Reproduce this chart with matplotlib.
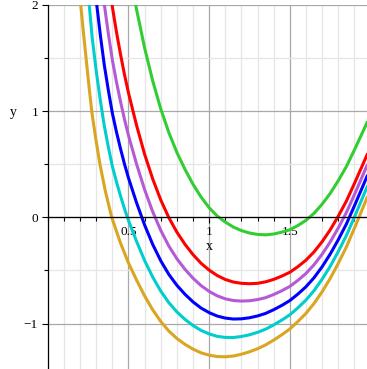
import numpy as np
import matplotlib
matplotlib.use("Agg")
from matplotlib import pyplot as plt
from matplotlib.ticker import MultipleLocator, FixedLocator

# curves (x, y)
orange_x = [0.204, 0.22, 0.237, 0.254, 0.272, 0.296, 0.323, 0.356, 0.396, 0.45, 0.50, 0.55, 0.60, 0.65, 0.70,
            0.75, 0.80, 0.85, 0.90, 0.95, 1.00, 1.05, 1.10, 1.15, 1.20, 1.25, 1.30, 1.35, 1.40, 1.45, 1.50,
            1.55, 1.60, 1.65, 1.70, 1.75, 1.80, 1.85, 1.90, 1.95, 1.98]
orange_y = [2.0, 1.75, 1.5, 1.25, 1.0, 0.75, 0.5, 0.25, 0.0, -0.24, -0.43, -0.59, -0.74, -0.87, -0.98,
            -1.07, -1.14, -1.195, -1.24, -1.275, -1.297, -1.31, -1.312, -1.305, -1.288, -1.265, -1.236, -1.2, -1.155, -1.105, -1.05,
            -0.98, -0.903, -0.81, -0.70, -0.575, -0.433, -0.28, -0.103, 0.08, 0.19]

cyan_x = [0.25, 0.275, 0.30, 0.325, 0.35, 0.375, 0.40, 0.425, 0.45, 0.475, 0.50, 0.55, 0.60, 0.65, 0.70,
          0.75, 0.80, 0.85, 0.90, 0.95, 1.00, 1.05, 1.10, 1.15, 1.20, 1.25, 1.30, 1.35, 1.40, 1.45, 1.50,
          1.55, 1.60, 1.65, 1.70, 1.75, 1.80, 1.85, 1.90, 1.95, 1.98]
cyan_y = [2.11, 1.69, 1.377, 1.105, 0.861, 0.663, 0.48, 0.336, 0.204, 0.081, -0.03, -0.226, -0.407, -0.562, -0.694,
          -0.803, -0.89, -0.96, -1.018, -1.064, -1.097, -1.12, -1.13, -1.131, -1.121, -1.105, -1.082, -1.052, -1.012, -0.967, -0.917,
          -0.851, -0.778, -0.689, -0.582, -0.461, -0.322, -0.172, 0.002, 0.183, 0.291]

blue_x = [0.30, 0.325, 0.35, 0.375, 0.40, 0.425, 0.45, 0.475, 0.50, 0.55, 0.60, 0.65, 0.70,
          0.75, 0.80, 0.85, 0.90, 0.95, 1.00, 1.05, 1.10, 1.15, 1.20, 1.25, 1.30, 1.35, 1.40, 1.45, 1.50,
          1.55, 1.60, 1.65, 1.70, 1.75, 1.80, 1.85, 1.90, 1.95, 1.98]
blue_y = [2.043, 1.721, 1.433, 1.197, 0.98, 0.806, 0.649, 0.502, 0.37, 0.137, -0.073, -0.255, -0.409,
          -0.537, -0.64, -0.724, -0.796, -0.854, -0.897, -0.929, -0.948, -0.957, -0.955, -0.945, -0.928, -0.904, -0.869, -0.829, -0.783,
          -0.722, -0.653, -0.568, -0.465, -0.346, -0.211, -0.064, 0.108, 0.285, 0.392]

purple_x = [0.325, 0.35, 0.375, 0.40, 0.425, 0.45, 0.475, 0.50, 0.55, 0.60, 0.65, 0.70,
            0.75, 0.80, 0.85, 0.90, 0.95, 1.00, 1.05, 1.10, 1.15, 1.20, 1.25, 1.30, 1.35, 1.40, 1.45, 1.50,
            1.55, 1.60, 1.65, 1.70, 1.75, 1.80, 1.85, 1.90, 1.95, 1.98]
purple_y = [2.336, 2.004, 1.73, 1.48, 1.277, 1.093, 0.923, 0.77, 0.501, 0.26, 0.053, -0.123,
            -0.27, -0.39, -0.489, -0.573, -0.643, -0.697, -0.739, -0.767, -0.783, -0.788, -0.785, -0.774, -0.756, -0.726, -0.691, -0.65,
            -0.593, -0.528, -0.446, -0.347, -0.232, -0.10, 0.044, 0.213, 0.388, 0.493]

red_x = [0.375, 0.40, 0.425, 0.45, 0.475, 0.50, 0.55, 0.60, 0.65, 0.70,
         0.75, 0.80, 0.85, 0.90, 0.95, 1.00, 1.05, 1.10, 1.15, 1.20, 1.25, 1.30, 1.35, 1.40, 1.45, 1.50,
         1.55, 1.60, 1.65, 1.70, 1.75, 1.80, 1.85, 1.90, 1.95, 1.98]
red_y = [2.263, 1.98, 1.747, 1.538, 1.344, 1.17, 0.865, 0.593, 0.361, 0.163,
         -0.003, -0.14, -0.254, -0.351, -0.433, -0.497, -0.548, -0.585, -0.609, -0.621, -0.625, -0.621, -0.607, -0.584, -0.553, -0.517,
         -0.464, -0.403, -0.325, -0.229, -0.118, 0.011, 0.152, 0.318, 0.49, 0.594]

green_x = [0.50, 0.525, 0.55, 0.60, 0.65, 0.70,
           0.75, 0.80, 0.85, 0.90, 0.95, 1.00, 1.05, 1.10, 1.15, 1.20, 1.25, 1.30, 1.35, 1.40, 1.45, 1.50,
           1.55, 1.60, 1.65, 1.70, 1.75, 1.80, 1.85, 1.90, 1.95, 1.98]
green_y = [2.37, 2.157, 1.955, 1.593, 1.284, 1.02,
           0.797, 0.61, 0.452, 0.31, 0.19, 0.09, 0.012, -0.045, -0.092, -0.125, -0.148, -0.161, -0.165, -0.157, -0.14, -0.117,
           -0.077, -0.028, 0.038, 0.124, 0.225, 0.345, 0.477, 0.634, 0.798, 0.897]

series = [
    (orange_x, orange_y, "#daa520"),
    (cyan_x, cyan_y, "#00cdcd"),
    (blue_x, blue_y, "#0000ff"),
    (purple_x, purple_y, "#b55ad6"),
    (red_x, red_y, "#ff0000"),
    (green_x, green_y, "#32cd32"),
]

W, H = 367, 369
fig = plt.figure(figsize=(W / 100, H / 100), dpi=100)
left_px, top_px = 47.8, 4.7
ax = fig.add_axes([left_px / W, 0, 1 - left_px / W, 1 - top_px / H])
ax.set_xlim(0, 1.978)
ax.set_ylim(-1.427, 2)

# grid
ax.xaxis.set_major_locator(FixedLocator([0.5, 1.0, 1.5]))
ax.xaxis.set_minor_locator(MultipleLocator(0.1))
ax.yaxis.set_major_locator(FixedLocator([-1, 0, 1, 2]))
ax.yaxis.set_minor_locator(MultipleLocator(0.5))
ax.grid(which="minor", color="#e6e6e6", linewidth=0.9, zorder=0)
ax.grid(which="major", color="#a8a8a8", linewidth=0.9, zorder=0)
ax.set_axisbelow(True)

for xs, ys, c in series:
    ax.plot(xs, ys, color=c, linewidth=2.2, solid_capstyle="round",
            solid_joinstyle="round", zorder=3)

for s in ["top", "right"]:
    ax.spines[s].set_visible(False)
ax.spines["bottom"].set_position(("data", 0))
ax.spines["left"].set_position(("data", 0))
for s in ["bottom", "left"]:
    ax.spines[s].set_color("black")
    ax.spines[s].set_linewidth(0.9)
    ax.spines[s].set_zorder(4)

serif = "Liberation Serif"
ax.set_xticklabels(["0.5", "1", "1.5"], fontfamily=serif, fontsize=9.5)
ax.set_yticklabels(["\u22121", "0", "1", "2"], fontfamily=serif, fontsize=9.5)
ax.tick_params(axis="x", which="major", direction="out", length=4, width=0.8, pad=2)
ax.tick_params(axis="x", which="minor", direction="out", length=3, width=0.8)
ax.tick_params(axis="y", which="major", direction="out", length=4, width=0.8, pad=3)
ax.tick_params(axis="y", which="minor", direction="out", length=3, width=0.8)

ax.text(1.0, -0.279, "x", fontfamily=serif, fontsize=10, ha="center", va="center")
ax.text(-0.216, 0.99, "y", fontfamily=serif, fontsize=10, ha="center", va="center", clip_on=False)

fig.savefig("out.png", dpi=100)
